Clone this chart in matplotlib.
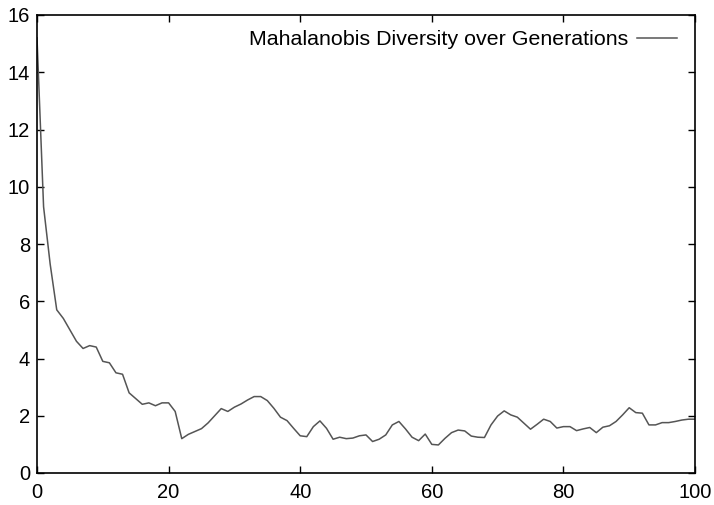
import matplotlib
matplotlib.use("Agg")
import matplotlib.pyplot as plt

generations = list(range(0, 101))
diversity = [
    15.2, 9.3, 7.3, 5.7, 5.4, 5.0, 4.6, 4.35, 4.45, 4.4,
    3.9, 3.85, 3.5, 3.45, 2.8, 2.6, 2.4, 2.45, 2.35, 2.45,
    2.45, 2.15, 1.2, 1.35, 1.45, 1.55, 1.75, 2.0, 2.25, 2.15,
    2.3, 2.41, 2.55, 2.67, 2.67, 2.53, 2.26, 1.95, 1.83, 1.56,
    1.3, 1.27, 1.62, 1.82, 1.56, 1.18, 1.25, 1.2, 1.22, 1.3,
    1.33, 1.1, 1.18, 1.33, 1.68, 1.8, 1.54, 1.25, 1.13, 1.36,
    1.0, 0.98, 1.21, 1.41, 1.5, 1.47, 1.29, 1.25, 1.24, 1.68,
    1.99, 2.17, 2.03, 1.95, 1.74, 1.53, 1.7, 1.88, 1.8, 1.57,
    1.62, 1.62, 1.48, 1.54, 1.59, 1.41, 1.6, 1.65, 1.8, 2.03,
    2.28, 2.11, 2.09, 1.68, 1.68, 1.76, 1.76, 1.8, 1.85, 1.88,
    1.88,
]
x_ticks = [0, 20, 40, 60, 80, 100]
y_ticks = [0, 2, 4, 6, 8, 10, 12, 14, 16]
label = "Mahalanobis Diversity over Generations"

plt.rcParams['font.family'] = ['Liberation Sans', 'DejaVu Sans']

fig = plt.figure(figsize=(7.14, 5.05), dpi=100)
ax = fig.add_axes([37/714, 1 - 473/505, (695-37)/714, (473-15)/505])
ax.plot(generations, diversity, color='#555555', linewidth=1.1, label=label)
ax.set_xlim(0, 100)
ax.set_ylim(0, 16)
ax.set_xticks(x_ticks)
ax.set_yticks(y_ticks)
ax.tick_params(direction='in', top=True, right=True, length=5, width=1,
               labelsize=14.5)
ax.tick_params(axis='x', pad=7)
ax.tick_params(axis='y', pad=5)
for s in ax.spines.values():
    s.set_linewidth(1.2)
leg = ax.legend(loc='upper right', frameon=False, markerfirst=False,
                fontsize=15.4, handlelength=1.9, handletextpad=0.4,
                borderpad=0.4, borderaxespad=0.0,
                bbox_to_anchor=(0.986, 0.985))
fig.savefig("out.png", dpi=100)
